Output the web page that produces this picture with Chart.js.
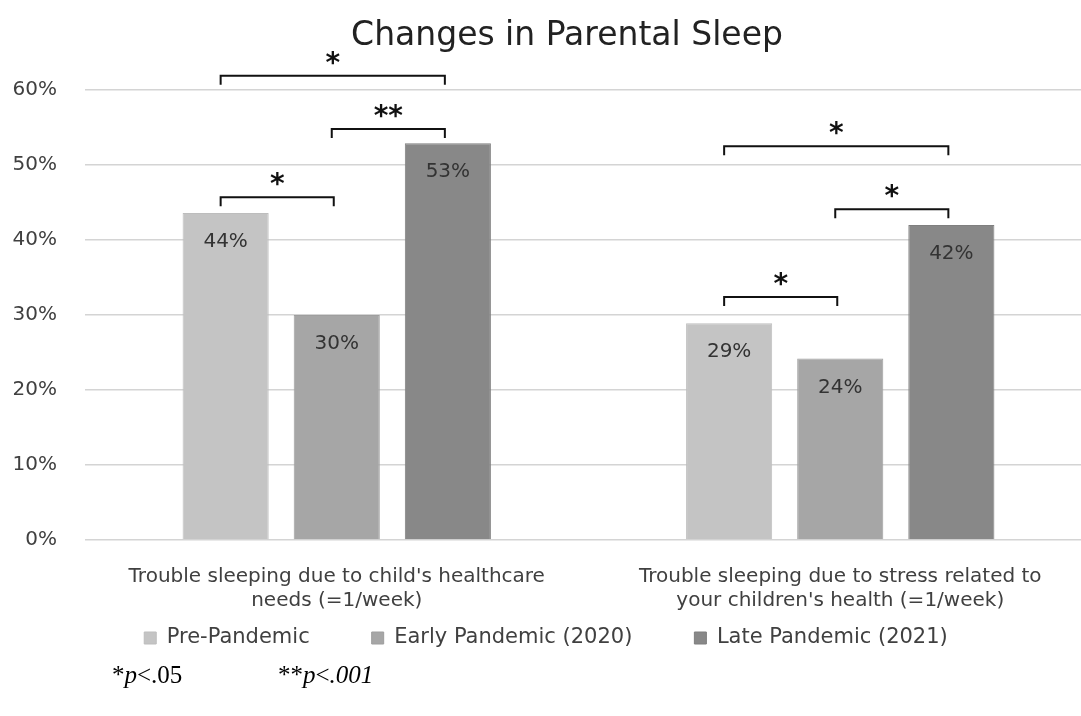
<!DOCTYPE html>
<html><head><meta charset="utf-8">
<script src="https://cdn.jsdelivr.net/npm/chart.js@4.4.0/dist/chart.umd.min.js"></script>
<style>
html,body{margin:0;padding:0;background:#fff;overflow:hidden;width:1081px;height:716px;}
#wrap{position:absolute;left:0;top:0;width:1092px;height:716px;}
#title{position:absolute;left:0;top:14px;width:1134px;text-align:center;font-family:"DejaVu Sans",sans-serif;font-size:33px;line-height:40px;color:#222;white-space:nowrap;}
.fn{position:absolute;font-family:"Liberation Serif",serif;font-size:25px;color:#000;top:661px;}
.fn i{font-style:italic;}
</style></head>
<body>
<div id="wrap"><canvas id="c" width="1092" height="716"></canvas></div>
<div id="title">Changes in Parental Sleep</div>
<div class="fn" style="left:112px;">*<i>p</i>&lt;.05</div>
<div class="fn" style="left:278px;">**<i>p</i>&lt;<i>.001</i></div>
<script>
const categories = [["Trouble sleeping due to child's healthcare","needs (=1/week)"],["Trouble sleeping due to stress related to","your children's health (=1/week)"]];
const seriesNames = ["Pre-Pandemic","Early Pandemic (2020)","Late Pandemic (2021)"];
const prePandemic = [43.6, 28.9];
const earlyPandemic = [30.0, 24.2];
const latePandemic = [52.9, 42.0];
const valueLabels = [["44%","29%"],["30%","24%"],["53%","42%"]];
const yTicks = [0,10,20,30,40,50,60];
// significance brackets: group index, series from/to, level (in % units), label
const brackets = [
  {group:0, from:0, to:1, level:45.7, label:"*"},
  {group:0, from:1, to:2, level:54.8, label:"**"},
  {group:0, from:0, to:2, level:61.9, label:"*"},
  {group:1, from:0, to:1, level:32.4, label:"*"},
  {group:1, from:1, to:2, level:44.1, label:"*"},
  {group:1, from:0, to:2, level:52.5, label:"*"}
];

const FONT = "'DejaVu Sans', sans-serif";
const colors = ["#c4c4c4","#a6a6a6","#888888"];
const borders = ["#bdbdbd","#9e9e9e","#7f7f7f"];
const LEG_FONT = 21, LEG_PAD = 62;

const valuePlugin = {
  id:"valueLabels",
  afterDatasetsDraw(chart){
    const ctx = chart.ctx;
    ctx.save();
    ctx.font = "20px " + FONT;
    ctx.fillStyle = "#333";
    ctx.textAlign = "center";
    ctx.textBaseline = "middle";
    chart.data.datasets.forEach((ds, i) => {
      chart.getDatasetMeta(i).data.forEach((bar, j) => {
        ctx.fillText(valueLabels[i][j], bar.x, bar.y + 29);
      });
    });
    ctx.restore();
  }
};

const bracketPlugin = {
  id:"brackets",
  afterDraw(chart){
    const ctx = chart.ctx;
    const y = chart.scales.y;
    ctx.save();
    ctx.strokeStyle = "#111";
    ctx.lineWidth = 2;
    ctx.fillStyle = "#111";
    ctx.textAlign = "center";
    ctx.textBaseline = "alphabetic";
    ctx.font = "bold 28px " + FONT;
    brackets.forEach(b => {
      const x1 = chart.getDatasetMeta(b.from).data[b.group].x - 5;
      const x2 = chart.getDatasetMeta(b.to).data[b.group].x - 3;
      const py = y.getPixelForValue(b.level);
      const drop = y.getPixelForValue(b.level - 1.2) - py;
      ctx.beginPath();
      ctx.moveTo(x1, py + drop);
      ctx.lineTo(x1, py);
      ctx.lineTo(x2, py);
      ctx.lineTo(x2, py + drop);
      ctx.stroke();
      ctx.fillText(b.label, (x1 + x2) / 2, py - 4);
    });
    ctx.restore();
  }
};

new Chart(document.getElementById("c"), {
  type:"bar",
  data:{
    labels: categories,
    datasets:[
      {label:seriesNames[0], data:prePandemic, backgroundColor:colors[0], borderColor:borders[0], borderWidth:1},
      {label:seriesNames[1], data:earlyPandemic, backgroundColor:colors[1], borderColor:borders[1], borderWidth:1},
      {label:seriesNames[2], data:latePandemic, backgroundColor:colors[2], borderColor:borders[2], borderWidth:1}
    ]
  },
  options:{
    responsive:false,
    devicePixelRatio:1,
    animation:false,
    layout:{padding:{left:0,right:0,top:90,bottom:57.5}},
    datasets:{bar:{categoryPercentage:0.662, barPercentage:0.775}},
    plugins:{
      title:{display:false},
      legend:{position:"bottom",
        labels:{font:{family:FONT, size:LEG_FONT}, color:"#404040", boxWidth:12, boxHeight:12, padding:LEG_PAD}},
      tooltip:{enabled:false}
    },
    scales:{
      x:{
        afterFit(s){ s.height = 98 - LEG_PAD - LEG_FONT / 2; s._computeLabelArea = () => undefined; },
        grid:{display:false, drawTicks:false},
        border:{display:false},
        ticks:{font:{family:FONT, size:20, lineHeight:1.2}, color:"#404040", padding:25, maxRotation:0, autoSkip:false}
      },
      y:{
        min:0, max:60,
        afterBuildTicks(s){ s.ticks = yTicks.map(v => ({value:v})); },
        afterFit(s){ s.width = 85; },
        grid:{color:"#d4d4d4", lineWidth:1.5, drawTicks:false},
        border:{display:false},
        ticks:{font:{family:FONT, size:20}, color:"#404040", padding:28, callback:v => v + "%"}
      }
    }
  },
  plugins:[valuePlugin, bracketPlugin]
});
</script>
</body></html>
